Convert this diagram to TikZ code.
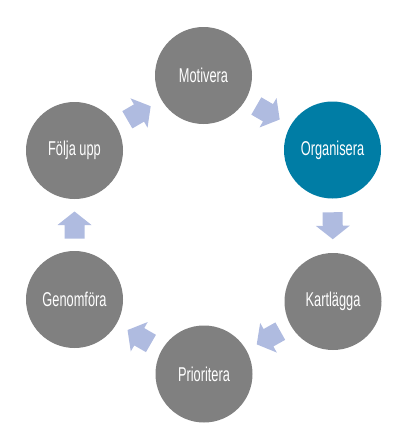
\documentclass[tikz,border=0pt]{standalone}
\usepackage{fontspec}
\setmainfont{Liberation Sans}[FakeStretch=0.64]
\definecolor{circgray}{HTML}{808080}
\definecolor{circteal}{HTML}{007DA5}
\definecolor{arrblue}{HTML}{AFBBE0}
\tikzset{
  stepcirc/.style={circle, fill=circgray, minimum size=97pt, inner sep=0pt,
    text=white, font=\fontsize{20pt}{23pt}\selectfont},
  blkarrow/.pic={
    \fill[arrblue] (-13.5pt,-10pt) -- (0pt,-10pt) -- (0pt,-17pt) -- (13.5pt,0pt)
      -- (0pt,17pt) -- (0pt,10pt) -- (-13.5pt,10pt) -- cycle;
  }
}
\begin{document}
\begin{tikzpicture}[x=1pt,y=-1pt]
\useasboundingbox (0,0) rectangle (412,434);
\node[stepcirc] (mot) at (203.5,75.5) {Motivera};
\node[stepcirc, fill=circteal] (org) at (332.5,150) {Organisera};
\node[stepcirc] (kar) at (333,301.5) {Kartlägga};
\node[stepcirc] (pri) at (204,374) {Prioritera};
\node[stepcirc] (gen) at (74.5,299.5) {Genomföra};
\node[stepcirc] (fol) at (74.5,150.5) {Följa upp};
\path (mot) -- (org) pic[midway, sloped, allow upside down] {blkarrow};
\path (org) -- (kar) pic[midway, sloped, allow upside down] {blkarrow};
\path (kar) -- (pri) pic[midway, sloped, allow upside down] {blkarrow};
\path (pri) -- (gen) pic[midway, sloped, allow upside down] {blkarrow};
\path (gen) -- (fol) pic[midway, sloped, allow upside down] {blkarrow};
\path (fol) -- (mot) pic[midway, sloped, allow upside down] {blkarrow};
\end{tikzpicture}
\end{document}
